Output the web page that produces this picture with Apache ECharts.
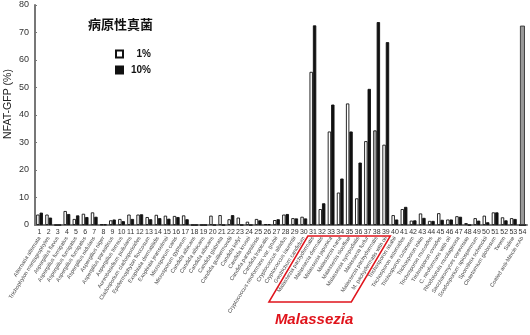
<!DOCTYPE html>
<html><head><meta charset="utf-8">
<script src="https://cdn.jsdelivr.net/npm/echarts@6/dist/echarts.min.js"></script>
<style>html,body{margin:0;padding:0;background:#fff}#c{width:530px;height:335px}</style>
</head><body><div id="c"></div>
<script>
const categories = Array.from({length: 54}, (_, i) => String(i + 1));
const names = [
 'Alternaria alternata','Trichophyton mentagrophytes','Aspergillus flavus','Aspergillus fumigatus','Aspergillus fumigatus',
 'Aspergillus fumigatus','Aspergillus nidulans','Aspergillus niger','Aspergillus parasiticus','Aspergillus terreus',
 'Aureobasidium pullulans','Cladosporium cladosporioides','Epidermophyton floccosum','Exophiala dermatitidis','Exophiala jeanselmei',
 'Microsporum canis','Microsporum gypseum','Candida albicans','Candida albicans','Candida albicans',
 'Candida glabrata','Candida guilliermondii','Candida kefyr','Candida krusei','Candida parapsilosis',
 'Candida tropicalis','Cryptococcus neoformans var. grubii','Cryptococcus albidus','Cryptococcus laurentii','Geotrichum candidum',
 'Malassezia pachydermatis','Malassezia dermatis','Malassezia japonica','Malassezia nana','Malassezia slooffiae',
 'Malassezia sympodialis','Malassezia furfur','Malassezia pachydermatis','M. pachydermatis with oil','Trichosporon asahii',
 'Trichosporon asteroides','Trichosporon cutaneum','Trichosporon inkin','Trichosporon mucoides','Trichosporon ovoides',
 'C. neoformans with oil','Rhodotorula mucilaginosa','Saccharomyces cerevisiae','Scedosporium apiospermum','Sporothrix schenckii',
 'Chaetomium globosum','Tween','Saline','Coated anti-Mincle mAb'
];
const white1 = [3.8,3.8,0,5.1,2.2,4.1,4.6,0.2,1.7,2.2,3.8,3.8,2.9,3.7,3.4,3.3,3.5,0,0,3.4,3.6,2.1,2.7,1.2,2.2,0.3,1.8,3.8,2.5,3.0,
 55.7,5.8,34.0,11.8,44.2,9.7,30.5,34.4,29.2,3.6,5.8,1.6,4.2,1.5,4.3,2.0,3.2,0.7,2.5,3.4,4.6,2.8,2.5,0];
const black10 = [4.5,2.7,0,4.0,3.5,2.9,3.0,0.2,2.0,1.4,2.2,3.9,2.1,2.5,2.3,2.9,2.1,0,0,0,0,3.6,0,0,1.7,0.3,2.1,4.0,2.4,2.4,
 72.6,7.9,43.8,16.9,34.0,22.7,49.5,73.8,66.5,2.0,6.6,1.7,2.6,1.5,1.9,2.0,3.0,0,1.6,1.0,4.6,1.7,2.2,0];
const control = categories.map((c, i) => i === 53 ? 72.5 : null);
const yTicks = [0, 80, 10];
const seriesNames = ['1%', '10%'];
const legendTitle = '病原性真菌';
const yName = 'NFAT-GFP (%)';
const highlightLabel = 'Malassezia';
const highlightRange = [31, 39];

const FONT = '"Liberation Sans", Arial, sans-serif';
const chart = echarts.init(document.getElementById('c'), null, {renderer: 'canvas'});
const whiteData = white1.map((v, i) => i === 37 ? {value: v, itemStyle: {color: '#c4c4c4'}} : v);

chart.setOption({
  animation: false,
  backgroundColor: '#fff',
  grid: {left: 35, right: 3, top: 5, bottom: 110},
  title: {text: legendTitle, left: 83, top: 13,
    textStyle: {fontSize: 13, fontWeight: 'bold', color: '#111', fontFamily: '"Noto Sans CJK JP", sans-serif'}},
  legend: {data: seriesNames, orient: 'vertical', left: 110, top: 44, itemWidth: 7, itemHeight: 7, itemGap: 6,
    icon: 'rect',
    formatter: n => '{a|' + n + '}',
    textStyle: {fontFamily: FONT, fontSize: 10, fontWeight: 'bold', color: '#111',
      rich: {a: {width: 23, align: 'right', fontSize: 10, fontWeight: 'bold', fontFamily: FONT, color: '#111'}}}},
  xAxis: [
    {type: 'category', data: categories, position: 'bottom',
     axisLine: {lineStyle: {color: '#777', width: 2}}, axisTick: {show: false},
     axisLabel: {interval: 0, fontSize: 7, color: '#333', margin: 4, fontFamily: FONT}},
    {type: 'category', data: names, position: 'bottom',
     axisLine: {show: false}, axisTick: {show: false},
     axisLabel: {interval: 0, rotate: 58, fontSize: 5.5, color: '#444', margin: 12, fontFamily: FONT}}
  ],
  yAxis: {type: 'value', min: yTicks[0], max: yTicks[1], interval: yTicks[2],
    splitLine: {show: false},
    axisLine: {show: true, lineStyle: {color: '#777', width: 2}},
    axisTick: {show: true, inside: true, length: 2, lineStyle: {color: '#777'}},
    axisLabel: {fontSize: 9, color: '#333', margin: 6, fontFamily: FONT}},
  series: [
    {name: seriesNames[0], type: 'bar', xAxisIndex: 0, data: whiteData, barWidth: 3.4, barGap: '0%',
     itemStyle: {color: '#fff', borderColor: '#111', borderWidth: 0.9}},
    {name: seriesNames[1], type: 'bar', xAxisIndex: 0, data: black10, barWidth: 3.4,
     itemStyle: {color: '#111', borderColor: '#111', borderWidth: 0.9}},
    {name: 'control', type: 'bar', xAxisIndex: 1, data: control, barWidth: 5,
     itemStyle: {color: '#999', borderColor: '#333', borderWidth: 0.9}}
  ]
});

const p0 = chart.convertToPixel({xAxisIndex: 0}, String(highlightRange[0]));
const p1 = chart.convertToPixel({xAxisIndex: 0}, String(highlightRange[1]));
const step = chart.convertToPixel({xAxisIndex: 0}, '2') - chart.convertToPixel({xAxisIndex: 0}, '1');
const y0 = chart.convertToPixel({yAxisIndex: 0}, 0);
const topY = y0 + 11, botY = y0 + 77, shift = 39;
const xl = p0 - step * 0.55, xr = p1 + step * 0.5;
chart.setOption({
  graphic: [
    {type: 'polygon', shape: {points: [[xl, topY], [xr, topY], [xr - shift, botY], [xl - shift, botY]]},
     style: {fill: 'none', stroke: '#e0141c', lineWidth: 1.5}, z: 10},
    {type: 'text', x: xl - shift + 6, y: botY + 10,
     style: {text: highlightLabel, fill: '#e0141c', font: 'italic bold 15px ' + FONT}, z: 10},
    {type: 'text', x: 8, y: 104, rotation: Math.PI / 2,
     style: {text: yName, fill: '#222', font: '10.5px ' + FONT, textAlign: 'center', textVerticalAlign: 'middle'}}
  ]
});
</script></body></html>
